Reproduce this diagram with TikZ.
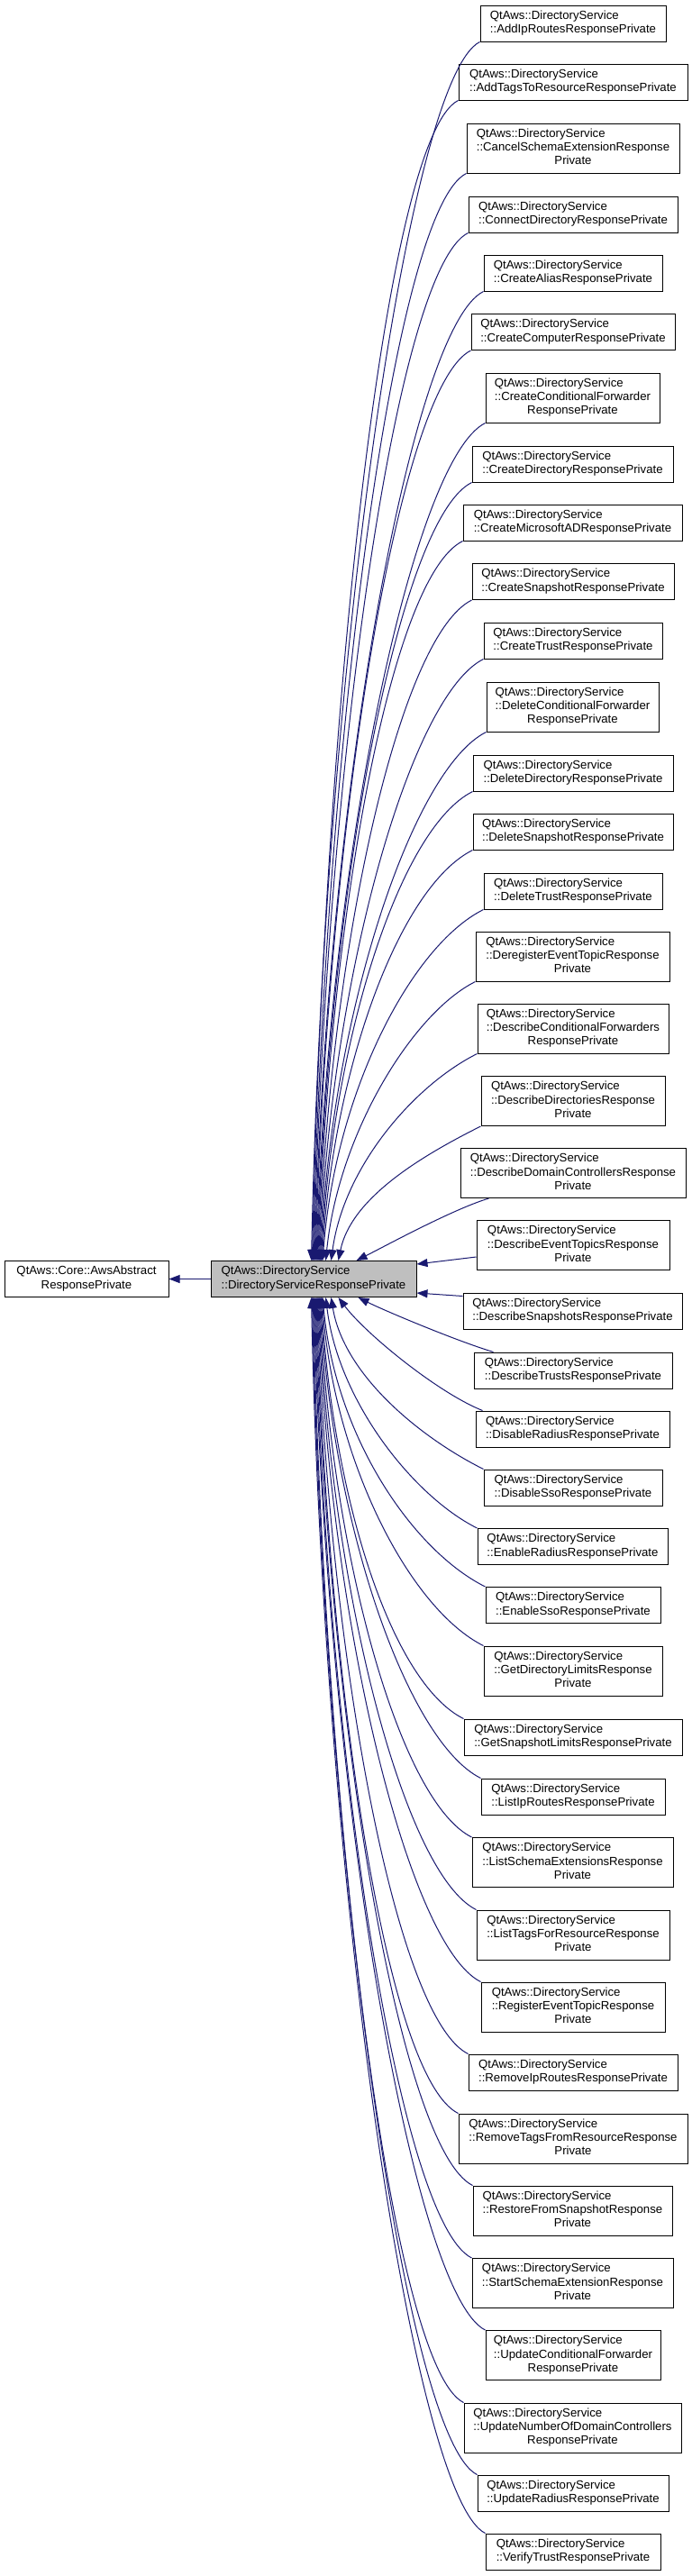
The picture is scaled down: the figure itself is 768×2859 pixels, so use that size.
\documentclass[tikz,border=0pt]{standalone}
\usepackage{fontspec}
\setmainfont{Liberation Sans}
\usetikzlibrary{arrows.meta}
\definecolor{edgeblue}{HTML}{191970}
\definecolor{centralfill}{HTML}{BFBFBF}
\newcommand{\lab}[2]{\begin{tabular}{@{}l@{}}#1\\\multicolumn{1}{@{}c@{}}{#2}\end{tabular}}
\newcommand{\qds}{QtAws::DirectoryService}
\tikzset{
  cls/.style={draw=black, line width=1pt, fill=white, rectangle, inner sep=0pt,
    font=\fontsize{13.2pt}{15.3pt}\selectfont},
  twol/.style={cls, minimum height=40},
  threel/.style={cls, minimum height=55},
  inh/.style={draw=edgeblue, line width=1pt, -{Triangle[length=12pt,width=9pt]}}
}
\begin{document}
\begin{tikzpicture}[x=1pt,y=-1pt]
\fill[white] (0,0) rectangle (768,2859);
\useasboundingbox (0,0) rectangle (768,2859);

\node[twol, minimum width=182] (base) at (96,1419.5) {\lab{QtAws::Core::AwsAbstract}{ResponsePrivate}};
\node[twol, fill=centralfill, minimum width=228] (c) at (348,1419.5) {\lab{\qds}{::DirectoryServiceResponsePrivate}};

\node[twol, minimum width=206] (n1) at (636,26) {\lab{\qds}{::AddIpRoutesResponsePrivate}};
\node[twol, minimum width=254] (n2) at (636,91) {\lab{\qds}{::AddTagsToResourceResponsePrivate}};
\node[threel, minimum width=236] (n3) at (636,164.5) {\lab{\qds\\::CancelSchemaExtensionResponse}{Private}};
\node[twol, minimum width=232] (n4) at (636,238) {\lab{\qds}{::ConnectDirectoryResponsePrivate}};
\node[twol, minimum width=198] (n5) at (636,303) {\lab{\qds}{::CreateAliasResponsePrivate}};
\node[twol, minimum width=226] (n6) at (636,368.5) {\lab{\qds}{::CreateComputerResponsePrivate}};
\node[threel, minimum width=193] (n7) at (635.5,441.5) {\lab{\qds\\::CreateConditionalForwarder}{ResponsePrivate}};
\node[twol, minimum width=223] (n8) at (635.5,515) {\lab{\qds}{::CreateDirectoryResponsePrivate}};
\node[twol, minimum width=243] (n9) at (635.5,580) {\lab{\qds}{::CreateMicrosoftADResponsePrivate}};
\node[twol, minimum width=224] (n10) at (636,645.5) {\lab{\qds}{::CreateSnapshotResponsePrivate}};
\node[twol, minimum width=198] (n11) at (636,711) {\lab{\qds}{::CreateTrustResponsePrivate}};
\node[threel, minimum width=191] (n12) at (635.5,784.5) {\lab{\qds\\::DeleteConditionalForwarder}{ResponsePrivate}};
\node[twol, minimum width=222] (n13) at (636,858) {\lab{\qds}{::DeleteDirectoryResponsePrivate}};
\node[twol, minimum width=222] (n14) at (636,923) {\lab{\qds}{::DeleteSnapshotResponsePrivate}};
\node[twol, minimum width=198] (n15) at (636,989) {\lab{\qds}{::DeleteTrustResponsePrivate}};
\node[threel, minimum width=215] (n16) at (635.5,1061.5) {\lab{\qds\\::DeregisterEventTopicResponse}{Private}};
\node[threel, minimum width=212] (n17) at (636,1141.5) {\lab{\qds\\::DescribeConditionalForwarders}{ResponsePrivate}};
\node[threel, minimum width=204] (n18) at (636,1222) {\lab{\qds\\::DescribeDirectoriesResponse}{Private}};
\node[threel, minimum width=250] (n19) at (636,1302) {\lab{\qds\\::DescribeDomainControllersResponse}{Private}};
\node[threel, minimum width=214] (n20) at (636,1382) {\lab{\qds\\::DescribeEventTopicsResponse}{Private}};
\node[twol, minimum width=243] (n21) at (635.5,1455) {\lab{\qds}{::DescribeSnapshotsResponsePrivate}};
\node[twol, minimum width=220] (n22) at (636,1521) {\lab{\qds}{::DescribeTrustsResponsePrivate}};
\node[twol, minimum width=215] (n23) at (635.5,1586) {\lab{\qds}{::DisableRadiusResponsePrivate}};
\node[twol, minimum width=198] (n24) at (636,1651) {\lab{\qds}{::DisableSsoResponsePrivate}};
\node[twol, minimum width=211] (n25) at (635.5,1716.5) {\lab{\qds}{::EnableRadiusResponsePrivate}};
\node[twol, minimum width=194] (n26) at (636,1781.5) {\lab{\qds}{::EnableSsoResponsePrivate}};
\node[threel, minimum width=198] (n27) at (636,1854.5) {\lab{\qds\\::GetDirectoryLimitsResponse}{Private}};
\node[twol, minimum width=242] (n28) at (636,1928) {\lab{\qds}{::GetSnapshotLimitsResponsePrivate}};
\node[twol, minimum width=204] (n29) at (636,1994) {\lab{\qds}{::ListIpRoutesResponsePrivate}};
\node[threel, minimum width=223] (n30) at (635.5,2067) {\lab{\qds\\::ListSchemaExtensionsResponse}{Private}};
\node[threel, minimum width=214] (n31) at (636,2147.5) {\lab{\qds\\::ListTagsForResourceResponse}{Private}};
\node[threel, minimum width=204] (n32) at (636,2227.5) {\lab{\qds\\::RegisterEventTopicResponse}{Private}};
\node[twol, minimum width=232] (n33) at (636,2300) {\lab{\qds}{::RemoveIpRoutesResponsePrivate}};
\node[threel, minimum width=254] (n34) at (636,2373.5) {\lab{\qds\\::RemoveTagsFromResourceResponse}{Private}};
\node[threel, minimum width=221] (n35) at (635.5,2453.5) {\lab{\qds\\::RestoreFromSnapshotResponse}{Private}};
\node[threel, minimum width=223] (n36) at (635.5,2534) {\lab{\qds\\::StartSchemaExtensionResponse}{Private}};
\node[threel, minimum width=194] (n37) at (636,2614) {\lab{\qds\\::UpdateConditionalForwarder}{ResponsePrivate}};
\node[threel, minimum width=241] (n38) at (635.5,2694.5) {\lab{\qds\\::UpdateNumberOfDomainControllers}{ResponsePrivate}};
\node[twol, minimum width=212] (n39) at (636,2767) {\lab{\qds}{::UpdateRadiusResponsePrivate}};
\node[twol, minimum width=194] (n40) at (636,2832) {\lab{\qds}{::VerifyTrustResponsePrivate}};

% base class
\draw[inh] (c.west) -- (base.east);

% derived classes above
\foreach \k/\xs/\g in {1/112/650, 2/112.9/618, 3/113.8/580, 4/114.7/548, 5/115.6/517,
  6/116.5/485, 7/117.4/447, 8/118.3/415, 9/119.2/384, 10/120.1/352, 11/121/321,
  12/121.9/282, 13/122.8/250, 14/123.7/219, 15/124.6/187}
  \draw[inh] (n\k.south west) .. controls +(-80,40) and +(14,-\g) .. ([xshift=\xs]c.north west);
\foreach \k/\xs/\g in {16/128/140, 17/134/104, 18/142/68}
  \draw[inh] (n\k.south west) .. controls +(-70,35) and +(14,-\g) .. ([xshift=\xs]c.north west);
\draw[inh] ([xshift=32]n19.south west) .. controls +(-40,12) and +(30,-15) .. ([xshift=162]c.north west);
\draw[inh] ([yshift=-13]n20.west) -- ([yshift=-4]c.north east);
\draw[inh] ([yshift=-4]n21.north west) -- ([yshift=5]c.south east);

% derived classes below
\draw[inh] ([xshift=22]n22.north west) .. controls +(-40,-12) and +(30,15) .. ([xshift=164]c.south west);
\draw[inh] ([xshift=8]n23.north west) .. controls +(-50,-20) and +(30,40) .. ([xshift=142]c.south west);
\foreach \k/\xs/\g in {24/134/86, 25/128/116}
  \draw[inh] (n\k.north west) .. controls +(-70,-35) and +(14,\g) .. ([xshift=\xs]c.south west);
\foreach \k/\xs/\g in {26/124.6/155, 27/123.7/186, 28/122.8/225, 29/121.9/257,
  30/121/288, 31/120.1/327, 32/119.2/365, 33/118.3/403, 34/117.4/435, 35/116.5/474,
  36/115.6/512, 37/114.7/551, 38/113.8/589, 39/112.9/628, 40/112/659}
  \draw[inh] (n\k.north west) .. controls +(-80,-40) and +(14,\g) .. ([xshift=\xs]c.south west);
\end{tikzpicture}
\end{document}
